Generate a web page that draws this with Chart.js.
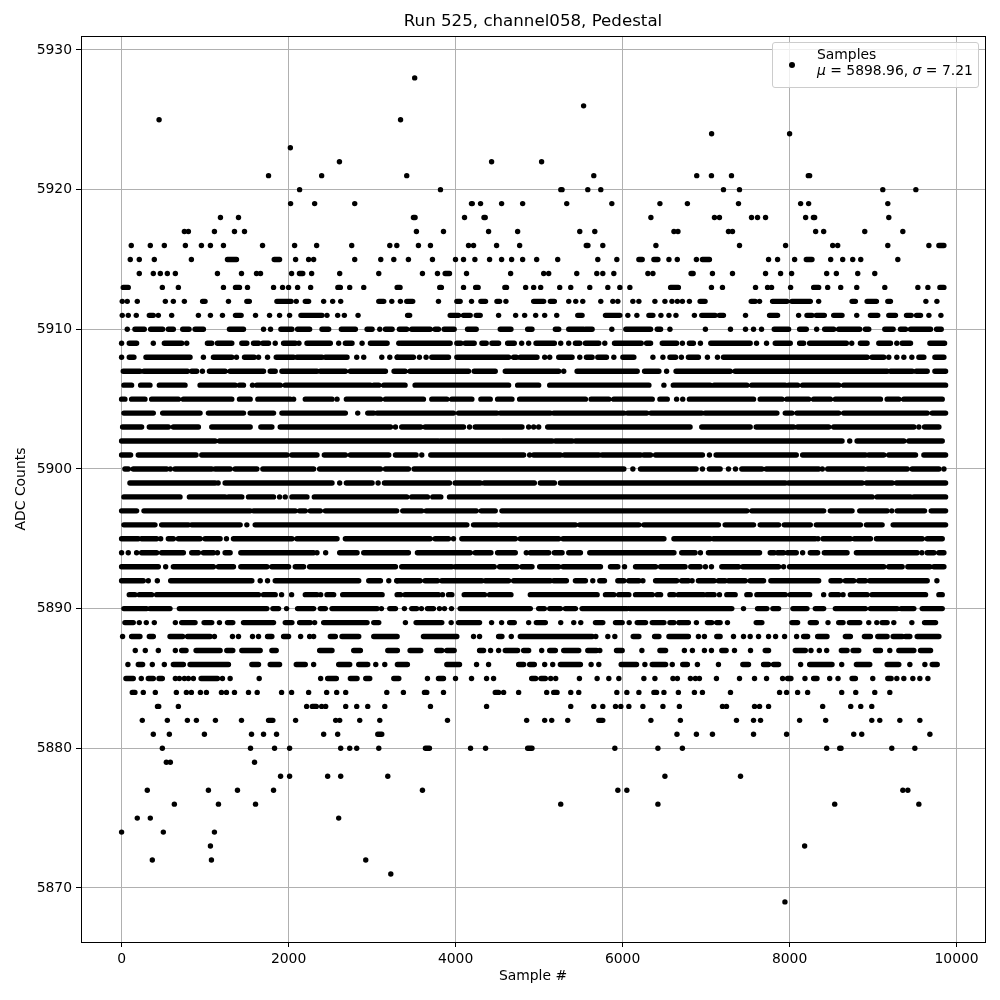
<!DOCTYPE html>
<html>
<head>
<meta charset="utf-8">
<title>Run 525, channel058, Pedestal</title>
<script src="https://cdn.jsdelivr.net/npm/chart.js@4"></script>
<style>
  html, body { margin: 0; padding: 0; background: #fff; }
  #wrap { position: relative; width: 1000px; height: 1000px; }
  #legendBox {
    position: absolute; left: 772px; top: 42px; width: 205px; height: 44px;
    background: rgba(255,255,255,0.8); border: 1px solid #ccc; border-radius: 3px;
    font: 13.9px "DejaVu Sans"; color: #000; line-height: 16px;
  }
  #legendBox .dot { position: absolute; left: 16px; top: 19px; width: 6px; height: 6px; background: #000; border-radius: 50%; }
  #legendBox .txt { position: absolute; left: 44px; top: 3px; white-space: nowrap; }
</style>
</head>
<body>
<div id="wrap">
  <canvas id="displayGraph" width="1000" height="1000"></canvas>
  <div id="legendBox"><span class="dot"></span><div class="txt">Samples<br><i>μ</i> = 5898.96, <i>σ</i> = 7.21</div></div>
</div>
<script>
// each row = samples seen at one ADC level
// a plain number is one dot, [a,b] is a stretch where the dots touch each other
const adc5928 = [3510]
const adc5926 = [5533]
const adc5925 = [449, 3341]
const adc5924 = [7066, 8000]
const adc5923 = [2021]
const adc5922 = [2609, 4431, 5030]
const adc5921 = [1760, 2396, 3415, 5655, 6888, 7064, 7304, [8224,8240]]
const adc5920 = [2132, 3819, [5260,5275], 5583, 5739, 7208, 7400, 9116, 9512]
const adc5919 = [2024, 2312, 2792, [4190,4200], 4299, 4551, 4803, 5331, 5871, 6447, 6776, 7388, 8132, 8228, 9176]
const adc5918 = [1184, 1400, [3495,3515], 4107, [4340,4355], 6339, 7100, 7160, 7544, 7616, 7712, 8192, [8285,8300], 9188]
const adc5917 = [752, 800, 1112, 1352, 1472, 3531, 3855, 4395, 4743, 5487, 5667, 6615, 6663, 7268, 7316, 8312, 8408, 8900, 9356]
const adc5916 = [116, 344, 512, 764, 956, 1064, 1220, 1688, 2072, 2336, 2756, 3212, 3296, 3555, 3699, 4155, 4215, 4491, 4767, [5565,5585], 5763, 6399, 7400, 7952, 8516, 8576, 9176, 9668, [9788,9848]]
const adc5915 = [104, 212, 392, 836, [1268,1376], [1828,1892], 2084, 2240, 2300, 2792, 3104, 3260, 3435, 3723, 3999, 4095, 4231, 4407, 4551, 4671, 4803, 4971, 5223, 5703, 5931, [6195,6235], [6375,6423], 6555, 6655, 6884, [6956,7040], 7748, 7856, 8060, [8200,8268], 8492, 8636, 8756, 8852, 9296]
const adc5914 = [212, 380, 464, 548, 644, 1148, 1436, 1616, 1664, 2036, [2130,2170], 2276, 2612, 3080, 3603, 3783, [3875,3927], 4131, 4659, 5055, 5115, 5451, 5691, 5763, 5895, 6303, 6363, [6820,6845], 7076, 7316, 7712, 7892, 8024, 8444, 8560, 8816, 9020]
const adc5913 = [[20,80], 488, 680, 1220, [1364,1412], 1508, 1820, 1928, 2000, 2108, 2264, [2590,2620], 2732, 2900, [3300,3335], [3810,3830], 4095, [4240,4270], [4590,4610], 4839, 4935, 5019, 5247, 5379, 5607, 5823, 5967, 6087, [6575,6668], 7064, 7196, 7592, 7736, 7784, 8012, [8288,8348], 8456, 8612, 8804, 9140, 9536, 9656, [9800,9848]]
const adc5912 = [8, 68, 188, 524, 620, 752, [970,1000], 1280, [1500,1530], [1860,2030], 2092, [2200,2240], 2420, 2528, 2624, [3080,3140], 3236, 3339, [3415,3487], 3795, [4015,4055], 4191, [4303,4359], [4495,4527], 4603, [4935,5055], [5135,5183], 5355, 5439, 5523, 5739, 5883, 5943, 6123, 6195, 6387, 6507, 6591, 6656, 6716, 6800, [6928,6988], [7540,7588], 7640, [7796,7968], [8028,8248], 8348, [8748,8788], [8928,9040], [9176,9208], 9632, 9764]
const adc5911 = [8, 80, 176, [332,380], 440, 600, 920, 1064, 1208, [1364,1432], 1604, 1772, 1892, 2012, [2148,2400], 2460, 2588, 2668, 2832, [3425,3450], [3935,4035], [4095,4175], [4247,4295], 4515, 4719, 4827, 4959, 5067, 5211, [5463,5515], [5795,5967], 6063, 6171, [6315,6363], 6459, 6555, 6639, 6860, [6948,7108], [7160,7208], 7472, [7760,7856], 8108, [8208,8268], [8320,8416], [8528,8628], 8804, [8968,9056], [9188,9268], [9400,9456], [9520,9568], 9668, 9812]
const adc5910 = [68, [160,272], [348,492], [560,620], [732,808], [880,980], [1292,1460], 1700, 1784, [1908,2040], [2108,2252], [2400,2480], [2632,2800], [2940,3000], 3092, [3160,3240], [3327,3415], [3475,3695], [3755,3795], [3863,3983], [4143,4247], [4535,4663], [4863,4915], [5195,5235], [5355,5535], [5555,5635], 5871, [6039,6335], [6415,6455], 6567, 6992, 7292, 7472, 7568, 7664, [7816,7988], [8120,8200], 8324, [8420,8528], [8588,8840], [8908,8948], [9140,9240], [9328,9388], [9448,9688], [9760,9816]]
const adc5909 = [0, [92,180], 380, [512,720], 780, [1028,1080], [1148,1320], [1440,1500], [1580,1640], [1692,1760], 1840, [1940,2080], 2124, [2220,2500], 2600, [2680,2760], 2880, [2980,3180], 3320, [3343,3935], [4015,4063], [4115,4223], [4315,4367], [4435,4515], [4623,4703], 4791, 4875, [4963,5183], 5259, 5355, [5435,5487], [5555,5715], 5787, [5903,6223], [6287,6335], [6475,6647], 6716, [6800,6848], 6932, [7056,7528], 7604, 7724, [7828,8008], [8120,8168], [8240,8680], 8744, [8848,8928], [9068,9208], 9284, [9348,9448], [9680,9856]]
const adc5908 = [0, [92,148], [292,820], 980, [1100,1320], 1376, [1472,1588], 1640, 1748, [1852,2060], [2100,2400], [2440,2700], 2816, 2900, 3116, 3212, 3300, [3303,3495], 3567, 3647, [3715,3915], [4015,4635], [4695,4727], [4775,4975], 5067, 5127, [5235,5395], 5487, [5567,5635], [5703,5807], 5895, [6003,6135], 6363, 6483, [6567,6635], 6704, [6788,6908], 7016, 7136, [7208,8928], [8988,9128], 9188, 9284, 9368, 9464, [9548,9608], [9740,9848]]
const adc5907 = [[20,220], [268,788], [840,900], 968, [1052,1240], [1300,1700], [1780,1840], [1920,2340], [2380,2680], [2740,3160], [3263,3395], [3455,4155], [4223,4475], [4595,5235], 5295, [5455,6175], [6263,6435], 6527, [6640,7288], [7348,9168], [9208,9468], [9516,9648], [9740,9868]]
const adc5906 = [[28,120], [228,340], [452,760], [940,1360], [1412,1460], 1568, [1620,1900], [1960,2980], [3020,3080], [3140,3395], [3515,4635], [4743,4995], [5127,6315], 6495, [6607,7048], [7096,7488], [7548,7948], [7988,8096], [8156,8588], [8648,9868]]
const adc5905 = [[0,40], [120,280], [360,680], [740,1320], [1412,1540], [1632,2020], 2060, [2200,2520], 2580, [2692,3100], [3160,3615], [3715,3895], [3955,4195], [4303,4415], [4503,4675], [4767,5555], [5623,5835], [5895,6355], [6447,6535], 6647, 6720, [6800,7568], [7648,7908], [7968,8228], [8288,8488], [8548,9088], [9168,9308], [9368,9828]]
const adc5904 = [[28,380], [492,940], [1040,1460], [1540,1820], [1920,2680], 2828, [2948,3020], [3060,3975], [4035,4495], [4535,5135], [5175,6015], [6060,6290], [6340,6948], [6988,7848], [7948,8028], [8088,8588], [8648,9648], [9708,9868]]
const adc5903 = [[12,240], [332,560], [620,920], [1080,1540], [1668,1800], [1900,3220], 3280, [3355,3583], [3635,4095], 4167, [4235,4795], 4875, 4935, 4995, [5103,6808], [6948,7528], [7600,8048], [8096,8468], [8528,9488], 9548, [9616,9788]]
const adc5902 = [[0,1120], [1172,3795], [3815,4535], [4555,5155], [5195,5395], [5435,8628], 8720, [8808,9368], [9428,9828]]
const adc5901 = [[0,108], [200,892], [960,1980], [2040,2340], [2428,2680], [2740,3200], [3280,3527], 3595, [3703,4815], 4887, [4935,5255], [5303,5715], [5755,6215], [6255,6335], [6395,6956], 7040, [7120,8080], [8156,8908], [8948,9128], [9188,9508], [9608,9868]]
const adc5900 = [[40,80], [140,540], 584, [640,1080], [1120,1300], [1360,1620], [1692,2300], [2372,3100], [3160,3435], [3503,6015], 6123, [6215,6880], 6956, [7040,7168], 7268, 7352, [7428,7668], [7720,8348], 8392, [8456,8888], [8936,9408], [9468,9788], 9848]
const adc5899 = [[100,1120], 1156, [1240,2520], 2612, [2692,3000], 3072, [3148,3927], [3995,4295], [4343,4943], [5015,5183], [5255,7948], [7988,8868], [8920,9228], [9280,9868]]
const adc5898 = [[28,700], [812,1240], [1280,1440], [1520,1820], 1892, 1960, [2040,2220], [2308,3415], [3475,3663], [3727,3823], [3927,8988], [9048,9448], [9488,9868]]
const adc5897 = [[0,180], [268,1540], [1580,2080], [2132,2200], [2260,2380], [2440,3295], [3367,3595], [3647,4247], [4307,4475], [4555,7488], [7548,8408], [8488,8748], [8840,9168], 9224, [9288,9616], [9696,9868]]
const adc5896 = [[28,400], [480,800], [840,1420], 1500, [1600,4135], [4215,4495], [4535,5435], [5487,6195], [6255,7148], [7228,7568], [7648,7868], [7936,8248], [8320,8848], [8920,9108], [9240,9868]]
const adc5895 = [[0,200], [240,420], 468, [560,620], [680,940], [1000,1180], 1256, [1340,2040], [2100,2580], [2680,3695], [3755,3915], 3975, [4075,4715], [4775,5235], [5287,6495], [6615,7048], [7088,8308], 8340, [8400,8728], [8776,8968], [9040,9588], [9648,9828]]
const adc5894 = [0, 80, 180, [240,420], [480,740], [840,920], [980,1100], 1148, [1240,1300], [1428,2300], 2340, 2444, [2612,2820], [2900,3300], [3275,3435], [3543,4175], [4235,4423], [4503,4715], 4847, [4895,5115], [5183,5275], [5355,5495], [5607,6615], [6708,6868], 6932, [7028,7640], [7768,7816], [7856,7928], [7976,8080], 8156, [8248,8336], [8416,8688], [8800,9528], 9584, [9648,9728], [9788,9848]]
const adc5893 = [[0,440], 528, [620,1100], [1160,1340], [1428,1740], [1800,2000], [2080,2180], [2252,3280], [3355,3955], [3995,4463], [4527,4735], [4795,4915], [5007,5235], [5287,5735], [5855,5943], 6023, [6155,6395], [6455,6748], [6816,6928], 6992, 7064, [7188,7388], [7440,7868], 7928, [8000,9128], [9188,9348], [9416,9680], [9728,9848]]
const adc5892 = [[0,260], 320, 428, [588,1560], 1660, 1748, [1840,2840], [2960,3100], 3200, 3300, [3295,3575], [3635,3783], [3835,4315], [4355,4635], [4695,5135], [5175,5327], [5435,5555], 5643, [5727,5783], [5943,6015], [6075,6195], 6243, [6395,6648], [6708,6788], 6832, [6908,7096], [7148,7228], [7268,7468], [7528,7688], [7776,8348], [8496,8608], [8668,8768], [8828,8908], [8960,9648], 9764]
const adc5891 = [[92,160], [212,360], [420,1640], [1700,1840], 1916, 2036, [2200,2340], 2384, [2460,2540], [2648,3120], [3300,3340], [3395,3795], 3843, [3915,3955], [4103,4347], [4407,4663], [4895,5695], [5795,5895], [5955,6075], [6155,6355], [6415,6455], [6567,6615], [6668,6968], [7008,7096], 7160, [7248,7348], [7488,7528], [7608,7948], [8008,8240], 8408, [8496,8588], 8640, [8728,8928], [8988,9628], [9788,9828]]
const adc5890 = [[28,300], [340,580], [692,1740], [1812,1880], 1976, [2108,2300], [2380,2440], [2520,3060], 3112, [3212,3280], 3387, [3475,3535], 3591, [3663,3735], 3807, 3867, 3951, [4055,4895], [4995,5063], [5127,5255], [5315,5435], [5515,6055], [6087,7308], 7448, [7616,7728], [7800,7868], [8040,8208], [8308,8408], [8548,8908], [8968,9288], [9336,9488], [9588,9828]]
const adc5889 = [[40,140], 212, 296, 392, 644, [720,880], [988,1080], 1172, [1268,1332], [1460,1820], [1960,2040], [2132,2260], 2312, [2420,2940], [3020,3080], 3399, [3527,3835], 3947, [4035,4287], 4431, 4551, [4647,4703], 4875, [4967,5075], 5259, 5415, 5499, [5675,5763], [5915,5995], 6079, [6175,6275], [6355,6495], [6567,6615], 6675, [6680,6788], 6884, [7016,7068], [7128,7168], 7256, [7600,7668], [8028,8096], [8248,8320], 8460, [8588,8640], [8716,8840], 8948, 9044, [9108,9168], 9248, 9464, [9616,9748]]
const adc5888 = [12, [120,220], [332,380], [580,732], [790,1060], 1112, 1328, 1400, 1568, 1640, [1748,1800], [1940,2000], 2144, 2252, 2300, [2500,2560], [2640,2840], [3020,3300], [3615,4015], 4215, 4287, [4515,4555], 4667, [4775,5635], 5679, 5823, 5907, [6127,6195], [6383,6435], [6555,6788], 6908, 6980, [7128,7168], 7328, 7448, 7528, 7628, 7748, 7832, 7940, 8084, [8168,8216], [8336,8448], [8668,8728], [8896,8968], [9056,9168], [9240,9348], [9388,9440], [9528,9788]]
const adc5887 = [164, 284, 440, 644, [720,772], [892,1180], [1260,1332], [1440,1660], [1800,1852], [2372,2520], [2780,2860], [3188,3303], [3455,3583], [3775,3835], [3895,3983], [4287,4335], 4419, 4515, [4595,4743], [4815,4875], 5031, [5127,5195], [5295,5475], [5583,5687], 5727, [5927,5995], 6231, [6447,6515], 6740, 6836, 6980, 7064, [7188,7240], 7340, 7532, [7708,7748], [8068,8188], 8256, 8356, 8444, [8620,8688], [8760,8828], [9028,9088], 9200, [9308,9488], [9568,9688]]
const adc5886 = [76, [200,252], 368, 512, [620,740], [820,1280], [1560,1640], [1780,1892], [2092,2200], 2300, [2600,2732], [2840,2948], 3044, 3152, [3303,3423], [3895,4047], 4251, 4395, [4755,4815], [4887,4943], 5067, 5163, [5255,5495], 5623, 5715, [5983,6167], 6267, [6355,6515], 6595, [6720,6776], 6896, 7148, [7440,7508], [7688,7748], [7808,7868], 8132, [8240,8508], 8624, [8800,8960], [9168,9308], 9440, 9620, [9708,9768]]
const adc5885 = [[52,140], 236, [320,380], [448,488], 644, 692, 752, 800, 860, [952,1148], 1208, 1300, 1648, 2384, [2468,2572], [2740,2820], [2924,2972], [3260,3320], 3663, [3795,3855], 3999, 4191, 4371, 4455, [4911,4959], [5023,5075], 5139, 5199, 5483, 5695, 5835, 5955, 6255, 6387, 6603, 6656, 6812, 6872, 6920, 7124, 7400, 7580, 7724, 7916, [7976,8016], 8184, [8288,8328], 8480, 8580, [8748,8788], 8996, [9176,9216], 9284, 9368, 9476, 9560, 9656]
const adc5884 = [[128,160], 260, 404, 656, 776, 836, 944, 1016, 1196, 1256, 1352, 1520, 1624, 1916, 2036, 2240, 2456, 2576, 2684, 3176, 3375, [3627,3655], 3855, [4475,4515], 4575, 4755, 5091, [5175,5215], 5379, 5475, 5931, 6051, 6195, [6375,6407], 6495, 6668, 6860, 6956, 7292, 7880, 7964, 8096, 8216, 8624, 8792, 9020, 9200]
const adc5883 = [[430,445], 680, 2216, [2284,2332], 2396, 2444, 2684, 2816, 2948, 3152, 3699, 4371, 5379, 5655, 5763, 5915, 5979, 6075, 6243, 6483, 6680, 7196, 7244, 7580, 7640, 7748, 8396, 8732, 8852, 8984]
const adc5882 = [248, 548, 788, 896, 1124, 1436, [1760,1812], 2084, 2564, 2612, 2852, 3092, 3903, 4851, 5067, 5151, 5343, [5715,5763], 6339, 6692, 7364, 7568, 7652, 8120, 8432, 8984, 9080, 9320, 9560]
const adc5881 = [380, 572, 992, 1556, 1700, 1856, 2420, 2588, [3068,3116], 6651, 6884, 7076, 7568, 7964, 8768, 8864, 9680]
const adc5880 = [488, 1544, 1832, 2012, 2624, 2732, 2816, 3080, [3639,3687], 4179, 4359, [4863,4915], 5907, 6423, 6716, 8444, [8600,8616], 9224, 9500]
const adc5879 = [536, 584, 1592]
const adc5878 = [1904, 2012, 2468, 2624, 3188, 6507, 7412]
const adc5877 = [308, 1040, 1388, 1820, 3603, 5943, 6051, 9356, 9416]
const adc5876 = [632, 1160, 1604, 5259, 6423, 8540, 9548]
const adc5875 = [188, 344, 2600]
const adc5874 = [0, 500, 1112]
const adc5873 = [1064, 8180]
const adc5872 = [368, 1076, 2924]
const adc5871 = [3224]
const adc5869 = [7944]

const adcLevels = [5928,5926,5925,5924,5923,5922,5921,5920,5919,5918,5917,5916,5915,5914,5913,5912,5911,5910,5909,5908,5907,5906,5905,5904,5903,5902,5901,5900,5899,5898,5897,5896,5895,5894,5893,5892,5891,5890,5889,5888,5887,5886,5885,5884,5883,5882,5881,5880,5879,5878,5877,5876,5875,5874,5873,5872,5871,5869]
const adcRows = [adc5928,adc5926,adc5925,adc5924,adc5923,adc5922,adc5921,adc5920,adc5919,adc5918,adc5917,adc5916,adc5915,adc5914,adc5913,adc5912,adc5911,adc5910,adc5909,adc5908,adc5907,adc5906,adc5905,adc5904,adc5903,adc5902,adc5901,adc5900,adc5899,adc5898,adc5897,adc5896,adc5895,adc5894,adc5893,adc5892,adc5891,adc5890,adc5889,adc5888,adc5887,adc5886,adc5885,adc5884,adc5883,adc5882,adc5881,adc5880,adc5879,adc5878,adc5877,adc5876,adc5875,adc5874,adc5873,adc5872,adc5871,adc5869]

const xTicks = [0, 2000, 4000, 6000, 8000, 10000]
const yTicks = [5870, 5880, 5890, 5900, 5910, 5920, 5930]

const singleDots = []
const touchingDots = []
adcRows.forEach((row, i) => {
  row.forEach(s => {
    if (Array.isArray(s)) {
      touchingDots.push({x: s[0], y: adcLevels[i]}, {x: s[1], y: adcLevels[i]}, {x: s[1], y: null}) // null = coupure de la ligne
    } else {
      singleDots.push({x: s, y: adcLevels[i]})
    }
  })
})

const GRIDCOLOR = '#b0b0b0'
const FONT = 'DejaVu Sans'

// cadre noir autour du graphe
const framePlugin = {
  id: 'frame',
  afterDatasetsDraw(chart) {
    const a = chart.chartArea
    const ctx = chart.ctx
    ctx.save()
    ctx.strokeStyle = '#000'
    ctx.lineWidth = 1
    ctx.strokeRect(a.left + 0.5, a.top + 0.5, a.right - a.left, a.bottom - a.top)
    ctx.restore()
  }
}

new Chart(document.getElementById('displayGraph'), {
  type: 'scatter',
  data: {
    datasets: [
      { label: 'Samples', data: singleDots, backgroundColor: '#000', borderColor: '#000', pointRadius: 2.7, pointBorderWidth: 0, pointHoverRadius: 2.7 },
      { type: 'line', label: 'Samples', data: touchingDots, showLine: true, spanGaps: false, borderColor: '#000', borderWidth: 5.4, borderCapStyle: 'round', pointRadius: 0, tension: 0 }
    ]
  },
  options: {
    responsive: false,
    animation: false,
    events: [],
    layout: { padding: { left: 0, right: 15, top: 0, bottom: 0 } },
    plugins: {
      legend: { display: false },
      tooltip: { enabled: false },
      title: {
        display: true,
        fullSize: false,
        text: 'Run 525, channel058, Pedestal',
        color: '#000',
        font: { family: FONT, size: 16.67, weight: 'normal' },
        padding: { top: 12, bottom: 4 }
      }
    },
    scales: {
      x: {
        type: 'linear',
        min: -486,
        max: 10340,
        afterFit: s => { s.height = 58 },
        afterBuildTicks: s => { s.ticks = xTicks.map(v => ({ value: v })) },
        grid: { color: GRIDCOLOR, lineWidth: 1, tickColor: '#000', tickLength: 5 },
        border: { display: false },
        ticks: { color: '#000', font: { family: FONT, size: 13.9 }, maxRotation: 0, padding: 4, callback: v => String(v) },
        title: { display: true, text: 'Sample #', color: '#000', font: { family: FONT, size: 13.9 }, padding: { top: 0, bottom: 15 } }
      },
      y: {
        type: 'linear',
        min: 5866.13,
        max: 5931,
        afterFit: s => { s.width = 81 },
        afterBuildTicks: s => { s.ticks = yTicks.map(v => ({ value: v })) },
        grid: { color: GRIDCOLOR, lineWidth: 1, tickColor: '#000', tickLength: 5 },
        border: { display: false },
        ticks: { color: '#000', font: { family: FONT, size: 13.9 }, padding: 4, callback: v => String(v) },
        title: { display: true, text: 'ADC Counts', color: '#000', font: { family: FONT, size: 13.9 }, padding: { top: 13, bottom: 0 } }
      }
    }
  },
  plugins: [framePlugin]
})
</script>
</body>
</html>
